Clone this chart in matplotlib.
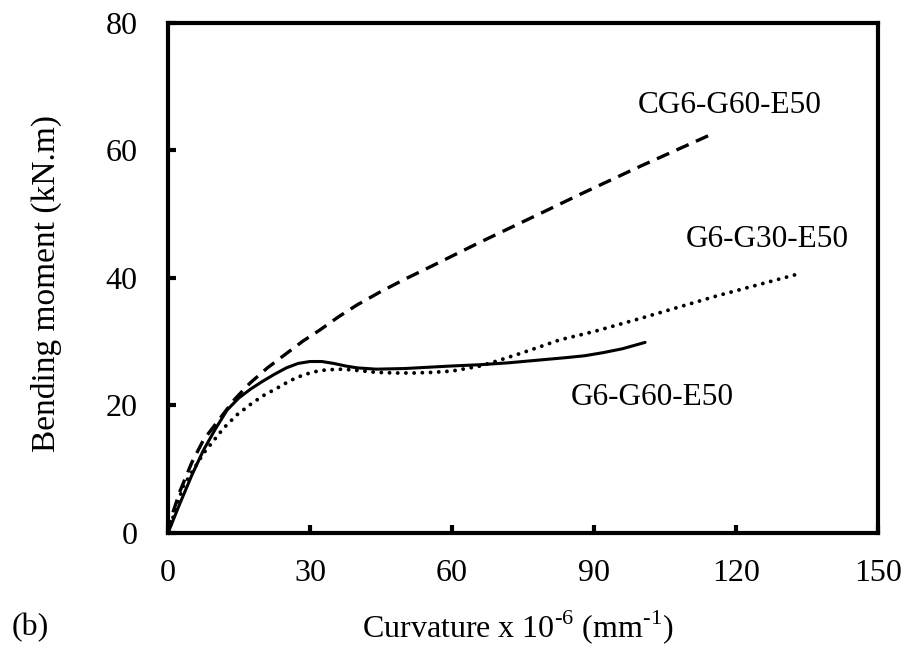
import matplotlib
matplotlib.use("Agg")
import matplotlib.pyplot as plt

# Moment-curvature response of the three beams
curv_g60 = [0, 2.5, 5, 7.5, 10, 12.5, 15, 17.5, 20, 22.5, 25, 27.5, 30, 32.5, 35,
            37.5, 40, 44, 50, 55, 60, 66, 72, 78, 84, 88, 92, 96, 100.8]
mom_g60 = [0, 4.6, 9.0, 13.0, 16.3, 19.3, 21.2, 22.6, 23.8, 24.9, 25.9, 26.6,
           26.9, 26.9, 26.6, 26.2, 25.9, 25.7, 25.8, 26.0, 26.2, 26.4, 26.7, 27.1,
           27.5, 27.8, 28.3, 28.9, 29.9]

curv_cg60 = [0, 0.5, 2.5, 5, 7.5, 11, 14, 17.3, 21, 25.1, 28.5, 32, 36, 40, 44.8,
             50, 55, 65.9, 78.6, 87, 100, 115.6]
mom_cg60 = [0, 2, 6.5, 11, 14.6, 18, 20.9, 23.5, 25.9, 28.2, 30.1, 31.8, 33.9,
            35.8, 37.8, 39.8, 41.6, 45.6, 50.1, 53.1, 57.6, 62.8]

curv_g30 = [0, 3.2, 7.5, 11.7, 14.5, 17.3, 20, 23, 25.8, 28.6, 31, 33.5, 37, 40,
            44, 48, 52, 56, 60, 63, 66, 70, 75, 82.8, 90, 100, 108.2, 116, 124,
            133.5]
mom_g30 = [0, 7.3, 12.5, 16.4, 18.5, 20.1, 21.5, 22.7, 23.9, 24.8, 25.3, 25.6,
           25.7, 25.5, 25.2, 25.1, 25.1, 25.2, 25.4, 25.8, 26.2, 27.1, 28.3, 30.3,
           31.6, 33.7, 35.5, 37.2, 38.8, 40.7]

x_ticks = [0, 30, 60, 90, 120, 150]
y_ticks = [0, 20, 40, 60, 80]

plt.rcParams["mathtext.fontset"] = "custom"
plt.rcParams["mathtext.rm"] = "Liberation Serif"
FONT = "Liberation Serif"

fig = plt.figure(figsize=(9.1, 6.59), dpi=100)
ax = fig.add_axes([0.1846, 0.1912, 0.7802, 0.7739])

ax.plot(curv_g60, mom_g60, color="black", lw=2.2, solid_joinstyle="round",
        solid_capstyle="round", clip_on=False)
ax.plot(curv_cg60, mom_cg60, color="black", lw=2.4, linestyle=(0, (4.0, 2.4)),
        clip_on=False)
ax.plot(curv_g30, mom_g30, color="black", lw=2.8, linestyle=(0, (0.01, 2.1)),
        dash_capstyle="round", clip_on=False)

ax.text(118.7, 67.1, "CG6-G60-E50", ha="center", va="center", fontsize=22.5, family=FONT)
ax.text(126.6, 46.0, "G6-G30-E50", ha="center", va="center", fontsize=22.5, family=FONT)
ax.text(102.3, 21.3, "G6-G60-E50", ha="center", va="center", fontsize=22.5, family=FONT)

ax.set_xlim(0, 150)
ax.set_ylim(0, 80)
ax.set_xticks(x_ticks)
ax.set_yticks(y_ticks)
ax.tick_params(direction="in", length=6, width=3, top=False, right=False,
               labelsize=23)
ax.tick_params(axis="x", pad=19)
ax.tick_params(axis="y", pad=22)
for lab in ax.get_xticklabels() + ax.get_yticklabels():
    lab.set_family(FONT)
for sp in ax.spines.values():
    sp.set_linewidth(3)

ax.set_ylabel("Bending moment (kN.m)", fontsize=24, family=FONT)
ax.yaxis.set_label_coords(-0.149, 0.49)
fig.text(0.569, 0.048, r"Curvature x 10$^{\text{-6}}$ (mm$^{\text{-1}}$)",
         ha="center", va="center", fontsize=23, family=FONT)
fig.text(0.013, 0.048, "(b)", ha="left", va="center", fontsize=23, family=FONT)

fig.savefig("out.png", dpi=100)
